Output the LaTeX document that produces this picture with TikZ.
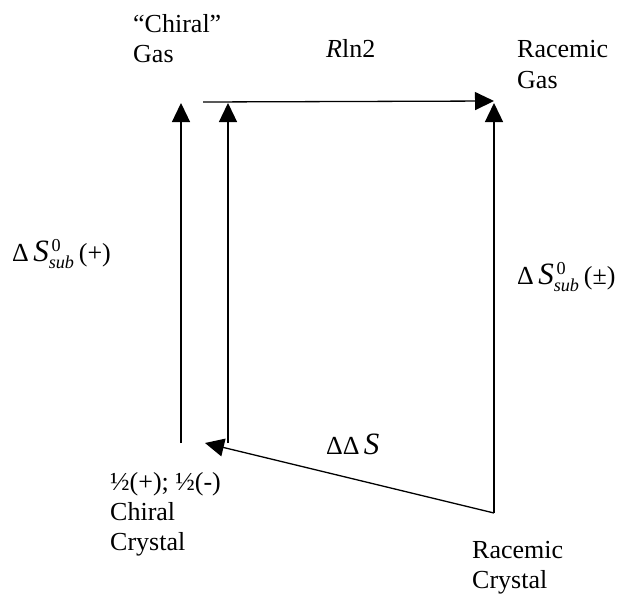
\documentclass[tikz,border=0pt]{standalone}
\usepackage{amsmath}
\usepackage{fontspec}
\setmainfont{Liberation Serif}
\usetikzlibrary{arrows.meta}

\newcommand{\bigS}{\textit{\fontsize{31}{30}\selectfont S}}

\begin{document}
\begin{tikzpicture}[x=1pt, y=-1pt, >={Triangle[width=18pt, length=19pt]},
  flow/.style={->, line width=1.3pt},
  lbl/.style={inner sep=0pt, anchor=base west, align=left, font=\fontsize{26}{30}\selectfont}]
  \useasboundingbox (0,0) rectangle (623,594);
  % corners of the cycle
  \coordinate (chiralcr) at (181,443);
  \coordinate (chiralgas) at (181,103);
  \coordinate (halfcr) at (228,443);
  \coordinate (halfgas) at (228,103);
  \coordinate (mixstart) at (203,102);
  \coordinate (racgas) at (494,103);
  \coordinate (raccr) at (494,513);
  \coordinate (ddtip) at (205,443);
  % labels (base = last line)
  \node[lbl] (lchiralgas) at (133,63) {“Chiral”\\Gas};
  \node[lbl] (lrln) at (326,57) {\textit{R}ln2};
  \node[lbl] (lracgas) at (517,88) {Racemic\\Gas};
  \node[lbl] (lsubplus) at (12,261) {Δ\,\bigS$^{\,\text{0}}_{\text{\itshape sub}}$\,(+)};
  \node[lbl] (lsubpm) at (517,284) {Δ\,\bigS$^{\,\text{0}}_{\text{\itshape sub}}$\,(±)};
  \node[lbl] (ldd) at (326,454) {ΔΔ\,\bigS};
  \node[lbl] (lchiralcr) at (110,550) {½(+); ½(-)\\Chiral\\Crystal};
  \node[lbl] (lraccr) at (472,588) {Racemic\\Crystal};
  % arrows
  \draw[flow] (chiralcr) -- (chiralgas);
  \draw[flow] (halfcr) -- (halfgas);
  \draw[flow] (mixstart) -- ([yshift=2pt]racgas);
  \draw[flow] (raccr) -- (racgas);
  \draw[flow] (raccr) -- (ddtip);
\end{tikzpicture}
\end{document}
